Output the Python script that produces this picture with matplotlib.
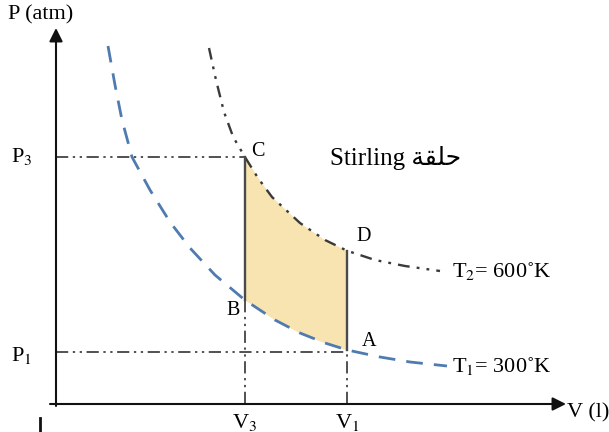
import numpy as np
import matplotlib.pyplot as plt

plt.rcParams['font.family'] = ['Liberation Serif', 'DejaVu Sans']
plt.rcParams['mathtext.fontset'] = 'stix'

# state points (V in l, P in atm, arbitrary scale)
V3, V1 = 4.72, 7.28
P3, P1 = 6.18, 1.30
P_B, P_A, P_D = 2.60, 1.35, 3.83

# isotherm T1 = 300 K (blue dashed)
t1_v = [1.30, 1.475, 1.65, 1.90, 2.35, 2.85, 3.35, 3.975, 4.72, 5.475, 6.10, 6.725, 7.28, 8.10, 8.85, 9.775]
t1_p = [8.95, 7.975, 7.10, 6.175, 5.35, 4.55, 3.90, 3.225, 2.60, 2.10, 1.775, 1.525, 1.35, 1.175, 1.05, 0.95]

# isotherm T2 = 600 K (dash-dot)
t2_v = [3.825, 4.00, 4.20, 4.43, 4.72, 5.05, 5.40, 6.10, 6.725, 7.28, 7.975, 8.725, 9.60]
t2_p = [8.90, 8.10, 7.30, 6.675, 6.18, 5.65, 5.175, 4.525, 4.10, 3.83, 3.60, 3.45, 3.325]

fig = plt.figure(figsize=(6.09, 4.32), dpi=100)
ax = fig.add_axes([0, 0, 1, 1])
ax.set_xlim(-1.4, 13.825)
ax.set_ylim(-0.7, 10.1)
ax.axis('off')

# cycle area
vv = np.linspace(V3, V1, 100)
ax.fill_between(vv, np.interp(vv, t1_v, t1_p), np.interp(vv, t2_v, t2_p),
                color='#f8e4b0', lw=0, zorder=1)

# isotherms
ax.plot(t1_v, t1_p, color='#4f7bb0', lw=2.0, ls=(0, (6, 4)), zorder=2)
ax.plot(t2_v, t2_p, color='#3a3a3a', lw=1.7, ls=(0, (5, 3, 1.2, 3, 1.2, 3)), zorder=2)

# isochores
ax.plot([V3, V3], [P3, P_B], color='#4a4a4a', lw=1.7, zorder=3)
ax.plot([V1, V1], [P_D, P_A], color='#4a4a4a', lw=1.7, zorder=3)

# guide lines
ddot = (0, (8, 3, 1.5, 3, 1.5, 3))
ax.plot([0, V3], [P3, P3], color='#222', lw=1.1, ls=ddot)
ax.plot([0, V1], [P1, P1], color='#222', lw=1.1, ls=ddot)
ax.plot([V3, V3], [0, P_B], color='#222', lw=1.1, ls=ddot)
ax.plot([V1, V1], [0, P_A], color='#222', lw=1.1, ls=ddot)

# axes arrows
arr = dict(arrowstyle='-|>', color='#111', lw=1.5, mutation_scale=20, shrinkA=0, shrinkB=0)
ax.annotate('', xy=(0, 9.4), xytext=(0, -0.05), arrowprops=arr)
ax.annotate('', xy=(12.75, 0), xytext=(-0.15, 0), arrowprops=arr)
ax.plot([-0.4, -0.4], [-0.35, -0.7], color='#111', lw=2)

fs = 16
ax.text(-1.2, 9.72, 'P (atm)', fontsize=fs, ha='left', va='center')
ax.text(-1.12, P3, r'P$_3$', fontsize=fs, ha='left', va='center')
ax.text(-1.12, P1 - 0.1, r'P$_1$', fontsize=fs, ha='left', va='center')
ax.text(V3, -0.47, r'V$_3$', fontsize=fs, ha='center', va='center')
ax.text(V1, -0.47, r'V$_1$', fontsize=fs, ha='center', va='center')
ax.text(12.78, -0.22, 'V (l)', fontsize=fs, ha='left', va='center')

ax.text(4.88, 6.3, 'C', fontsize=14.5, ha='left', va='center')
ax.text(7.5, 4.18, 'D', fontsize=14.5, ha='left', va='center')
ax.text(4.6, 2.33, 'B', fontsize=14.5, ha='right', va='center')
ax.text(7.65, 1.55, 'A', fontsize=14.5, ha='left', va='center')

ax.text(6.85, 6.15, 'Stirling \uFE94\uFED8\uFEE0\uFEA3', fontsize=18, ha='left', va='center',
        family=['Liberation Serif', 'DejaVu Sans'])
ax.text(9.9, 3.33, r'T$_2$= 600˚K', fontsize=fs, ha='left', va='center')
ax.text(9.9, 0.95, r'T$_1$= 300˚K', fontsize=fs, ha='left', va='center')

fig.savefig('out.png', dpi=100, facecolor='white')
